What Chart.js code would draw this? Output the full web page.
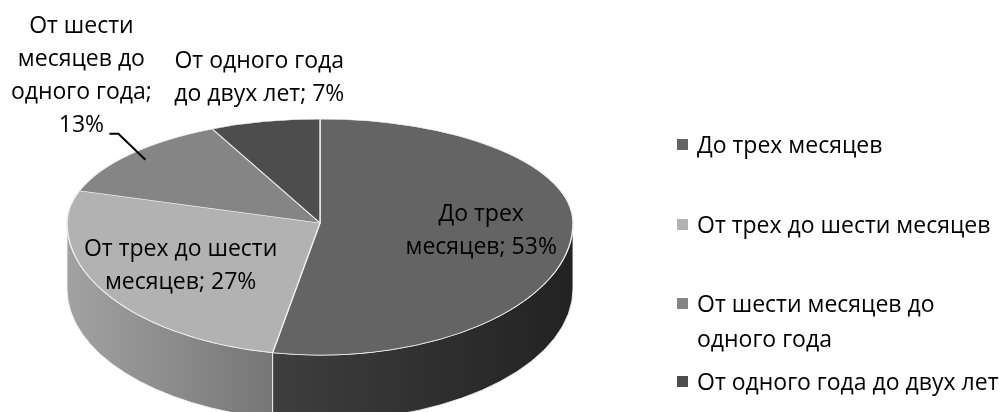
<!DOCTYPE html>
<html>
<head>
<meta charset="utf-8">
<script src="https://cdn.jsdelivr.net/npm/chart.js@4.4.1/dist/chart.umd.min.js"></script>
<style>
  body { margin: 0; background: #fff; }
  #wrap { position: relative; width: 1004px; height: 412px; overflow: hidden; }
  #legend { position: absolute; left: 677px; top: 0; font-family: 'Open Sans', sans-serif; font-size: 23px; line-height: 35px; color: #000; }
  .item { position: absolute; left: 0; width: 322px; display: flex; align-items: flex-start; }
  .box { flex: none; width: 11px; height: 11px; margin: 12px 9px 0 0; }
</style>
</head>
<body>
<div id="wrap">
  <canvas id="pie3d" width="1004" height="412"></canvas>
  <div id="legend"></div>
</div>
<script>
// data
const categories = ['До трех месяцев', 'От трех до шести месяцев', 'От шести месяцев до одного года', 'От одного года до двух лет']
const shares = [53, 27, 13, 7]
const topColors = ['#646464', '#b2b2b2', '#858585', '#4d4d4d']
const sideColors = [['#3e3e3e', '#222222'], ['#a2a2a2', '#767676'], ['#6a6a6a', '#555555'], ['#3a3a3a', '#2a2a2a']]
// data label text as wrapped on the picture, {p} = share
const dataLabelLines = [
    ['До трех', 'месяцев; {p}%'],
    ['От трех до шести', 'месяцев; {p}%'],
    ['От шести', 'месяцев до', 'одного года;', '{p}%'],
    ['От одного года', 'до двух лет; {p}%']
]

// 3d look
const TILT_TOP = 0.411
const TILT_BOTTOM = 0.522
const DEPTH = 0.26
const FONT = '23px "Open Sans", sans-serif'
const LINE_H = 33

const legendTops = [127, 207, 286, 364]

const getGeom = (chart) =>{
    const a = chart.getDatasetMeta(0).data[0]
    const area = chart.chartArea
    const rx = (area.right - area.left) / 2
    return {
        a0: a, R: a.outerRadius,
        cx: (area.left + area.right) / 2,
        cy: area.top + rx * TILT_TOP,
        rx: rx, ryT: rx * TILT_TOP, ryB: rx * TILT_BOTTOM, d: rx * DEPTH
    }
}

const toScreen = (g, angle, f) =>{
    const s = Math.sin(angle)
    return {
        x: g.cx + f * g.rx * Math.cos(angle),
        y: g.cy + f * (s > 0 ? g.ryB : g.ryT) * s
    }
}

const pie3d = {
    id: 'pie3d',
    beforeDatasetsDraw(chart){
        const ctx = chart.ctx
        const g = getGeom(chart)
        const arcs = chart.getDatasetMeta(0).data

        // side walls, only the front half shows
        arcs.forEach((arc, i) =>{
            const s = Math.max(arc.startAngle, 0)
            const e = Math.min(arc.endAngle, Math.PI)
            if(e <= s) return
            const xl = g.cx + g.rx * Math.cos(e)
            const xr = g.cx + g.rx * Math.cos(s)
            const grad = ctx.createLinearGradient(Math.min(xl, xr), 0, Math.max(xl, xr), 0)
            grad.addColorStop(0, sideColors[i][0])
            grad.addColorStop(1, sideColors[i][1])
            ctx.save()
            ctx.beginPath()
            ctx.ellipse(g.cx, g.cy, g.rx, g.ryB, 0, s, e)
            ctx.ellipse(g.cx, g.cy + g.d, g.rx, g.ryB, 0, e, s, true)
            ctx.closePath()
            ctx.fillStyle = grad
            ctx.fill()
            ctx.strokeStyle = 'rgba(245,245,245,0.9)'
            ctx.lineWidth = 1
            ctx.stroke()
            ctx.restore()
        })

        // top face: back half flatter than front half
        const parts = [[0, g.cy + 0.5, g.ryT], [g.cy, chart.height - g.cy, g.ryB]]
        parts.forEach(([y, h, ry]) =>{
            ctx.save()
            ctx.beginPath()
            ctx.rect(0, y, chart.width, h)
            ctx.clip()
            ctx.translate(g.cx, g.cy)
            ctx.scale(g.rx / g.R, ry / g.R)
            ctx.translate(-g.a0.x, -g.a0.y)
            arcs.forEach(arc => arc.draw(ctx))
            ctx.restore()
        })
        return false
    },
    afterDraw(chart){
        const ctx = chart.ctx
        const g = getGeom(chart)
        const arcs = chart.getDatasetMeta(0).data
        ctx.save()
        ctx.font = FONT
        ctx.fillStyle = '#000'
        ctx.textAlign = 'center'
        ctx.textBaseline = 'middle'
        arcs.forEach((arc, i) =>{
            const lines = dataLabelLines[i].map(t => t.replace('{p}', shares[i]))
            const mid = (arc.startAngle + arc.endAngle) / 2
            let cx, lastY
            if(shares[i] >= 20){
                const p = toScreen(g, mid, 0.64)
                cx = p.x
                lastY = p.y + (lines.length - 1) * LINE_H / 2
            }else if(Math.cos(mid) < -0.5){
                // label pulled off to the upper left with a leader line
                const e = toScreen(g, mid, 0.92)
                const k = { x: e.x - 27, y: e.y - 26 }
                const end = { x: k.x - 9, y: k.y }
                ctx.beginPath()
                ctx.moveTo(e.x, e.y)
                ctx.lineTo(k.x, k.y)
                ctx.lineTo(end.x, end.y)
                ctx.strokeStyle = '#000'
                ctx.lineWidth = 2
                ctx.stroke()
                cx = end.x - 28
                lastY = end.y - 8
            }else{
                const p = toScreen(g, mid, 1.1)
                cx = p.x
                lastY = p.y - LINE_H / 2
            }
            lines.forEach((t, j) =>{
                ctx.fillText(t, cx, lastY - (lines.length - 1 - j) * LINE_H)
            })
        })
        ctx.restore()
    }
}

const legend = document.getElementById('legend')
categories.forEach((c, i) =>{
    legend.innerHTML += `
        <div class="item" style="top:${legendTops[i]}px">
            <span class="box" style="background:${topColors[i]}"></span>
            <span>${c}</span>
        </div>
    `
})

new Chart(document.getElementById('pie3d'), {
    type: 'pie',
    data: {
        labels: categories,
        datasets: [{
            data: shares,
            backgroundColor: topColors,
            borderColor: '#f0f0f0',
            borderWidth: 0.8
        }]
    },
    options: {
        responsive: false,
        animation: false,
        events: [],
        layout: { padding: { left: 67, right: 431, top: 119, bottom: 0 } },
        plugins: { legend: { display: false }, tooltip: { enabled: false } }
    },
    plugins: [pie3d]
})
</script>
</body>
</html>
